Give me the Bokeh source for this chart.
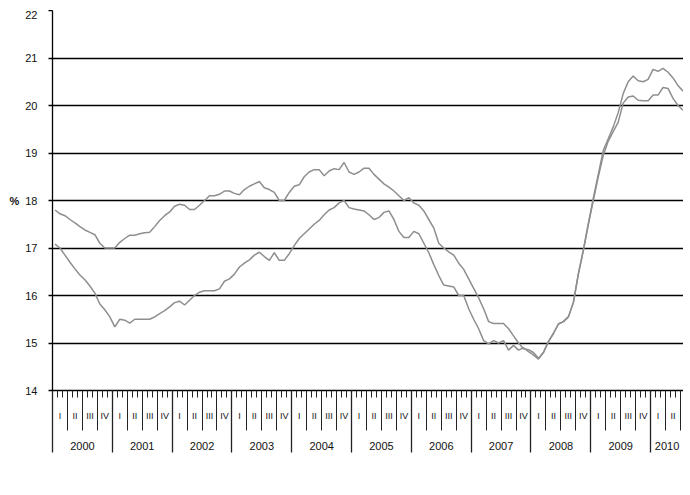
from bokeh.plotting import figure
from bokeh.models import (LinearAxis, FixedTicker, Range1d, Legend, LegendItem,
                          CustomJSTickFormatter)
from bokeh.embed import file_html
from bokeh.resources import INLINE

# ---- data (monthly, Jan 2000 - Jul 2010) ----
year_labels = ["2000", "2001", "2002", "2003", "2004", "2005",
               "2006", "2007", "2008", "2009", "2010"]
quarter_labels = ["I", "II", "III", "IV"]
y_ticks = [14, 15, 16, 17, 18, 19, 20, 21, 22]

eu27 = [17.8, 17.72, 17.68, 17.6, 17.53, 17.45, 17.38, 17.33, 17.28, 17.1,
        17.0, 17.0, 17.0, 17.12, 17.2, 17.27, 17.27, 17.3, 17.32, 17.33,
        17.45, 17.58, 17.68, 17.76, 17.88, 17.92, 17.9, 17.81, 17.81, 17.9,
        18.0, 18.1, 18.1, 18.13, 18.2, 18.2, 18.15, 18.12, 18.23, 18.3,
        18.35, 18.4, 18.27, 18.23, 18.17, 18.0, 18.0, 18.17, 18.3, 18.33,
        18.5, 18.6, 18.65, 18.65, 18.52, 18.62, 18.67, 18.65, 18.8, 18.6,
        18.55, 18.6, 18.68, 18.68, 18.55, 18.45, 18.35, 18.28, 18.2, 18.1,
        18.0, 18.06, 17.95, 17.9, 17.78, 17.6, 17.42, 17.1, 17.0, 16.92,
        16.85, 16.68, 16.55, 16.35, 16.15, 15.95, 15.72, 15.45, 15.41, 15.41,
        15.41, 15.3, 15.15, 15.0, 14.88, 14.86, 14.8, 14.68, 14.8, 15.03,
        15.2, 15.4, 15.45, 15.55, 15.85, 16.45, 16.95, 17.5, 18.05, 18.55,
        19.05, 19.3, 19.55, 19.85, 20.25, 20.5, 20.62, 20.52, 20.5, 20.55,
        20.76, 20.72, 20.78, 20.7, 20.58, 20.42, 20.3]

ea16 = [17.08, 17.0, 16.85, 16.7, 16.56, 16.43, 16.33, 16.2, 16.05, 15.82,
        15.7, 15.55, 15.34, 15.5, 15.48, 15.42, 15.5, 15.5, 15.5, 15.5,
        15.55, 15.62, 15.68, 15.76, 15.85, 15.88, 15.8, 15.9, 16.0, 16.07,
        16.1, 16.1, 16.1, 16.14, 16.3, 16.35, 16.45, 16.6, 16.68, 16.75,
        16.85, 16.91, 16.82, 16.74, 16.9, 16.74, 16.74, 16.88, 17.05, 17.2,
        17.3, 17.4, 17.5, 17.58, 17.7, 17.8, 17.85, 17.95, 18.0, 17.85,
        17.82, 17.8, 17.78, 17.7, 17.6, 17.64, 17.75, 17.78, 17.6, 17.35,
        17.22, 17.22, 17.35, 17.3, 17.1, 16.9, 16.65, 16.42, 16.22, 16.2,
        16.18, 16.0, 16.0, 15.72, 15.5, 15.3, 15.05, 14.98, 15.05, 15.0,
        15.05, 14.85, 14.95, 14.85, 14.9, 14.82, 14.75, 14.66, 14.8, 15.03,
        15.2, 15.4, 15.45, 15.55, 15.85, 16.45, 16.95, 17.5, 18.0, 18.5,
        18.95, 19.25, 19.45, 19.65, 20.05, 20.18, 20.2, 20.11, 20.1, 20.1,
        20.22, 20.22, 20.38, 20.36, 20.15, 20.0, 19.9]

n = len(eu27)
months_x = [i + 0.5 for i in range(n)]
x_end = n - 0.4

FONT = "Liberation Sans"
LINE_COLOR = "#8e8e8e"
TICK_COLOR = "#222222"

p = figure(frame_width=631, frame_height=380, output_backend="svg",
           toolbar_location=None, title=None,
           x_range=Range1d(0, x_end), y_range=Range1d(14, 22),
           x_axis_location=None, min_border_left=0, min_border_right=0,
           min_border_top=0, min_border_bottom=0)
p.margin = (10, 0, 0, 6)
p.outline_line_color = None
p.background_fill_color = "white"
p.border_fill_color = "white"

# y axis
ya = p.yaxis[0]
ya.ticker = FixedTicker(ticks=y_ticks)
ya.axis_line_color = "black"
ya.axis_line_width = 1.3
ya.major_tick_line_color = "black"
ya.major_tick_line_width = 1.3
ya.major_tick_out = 4
ya.major_tick_in = 0
ya.minor_tick_line_color = None
ya.major_label_standoff = 11
ya.major_label_text_font = FONT
ya.major_label_text_font_size = "11px"
ya.major_label_text_color = "#111111"
ya.axis_label = "%"
ya.axis_label_orientation = "horizontal"
ya.axis_label_standoff = 3
ya.axis_label_text_font = FONT
ya.axis_label_text_font_size = "11px"
ya.axis_label_text_font_style = "bold"
ya.axis_label_text_color = "#111111"

p.ygrid.ticker = FixedTicker(ticks=y_ticks[:-1])
p.ygrid.grid_line_color = "black"
p.ygrid.grid_line_width = 1.4
p.xgrid.visible = False

blank = CustomJSTickFormatter(code="return ''")

# month ticks (axis line at frame bottom)
month_bounds = list(range(0, n))
ax_m = LinearAxis(ticker=FixedTicker(ticks=month_bounds, minor_ticks=[]),
                  formatter=blank,
                  major_tick_out=7, major_tick_in=0,
                  minor_tick_out=0, minor_tick_in=0,
                  major_label_standoff=0, major_label_text_font_size="0px",
                  axis_line_color="black", axis_line_width=1.3,
                  major_tick_line_color=TICK_COLOR, major_tick_line_width=1)
p.add_layout(ax_m, "below")

# quarter labels + year boundary ticks (long, reaching up to the frame)
q_bounds = list(range(0, n, 3))
q_centers = [b + 1.5 for b in q_bounds if b + 1.5 < x_end]
y_bounds = list(range(0, n, 12))
ax_q = LinearAxis(ticker=FixedTicker(ticks=q_centers, minor_ticks=y_bounds),
                  formatter=CustomJSTickFormatter(args=dict(labels=quarter_labels),
                                                  code="return labels[Math.floor(tick / 3) % 4]"),
                  major_tick_out=0, major_tick_in=0,
                  minor_tick_in=7, minor_tick_out=55,
                  minor_tick_line_color=TICK_COLOR, minor_tick_line_width=1.3,
                  major_label_standoff=-42,
                  major_label_text_font=FONT, major_label_text_font_size="9px",
                  major_label_text_color="#111111",
                  axis_line_color=None)
p.add_layout(ax_q, "below")

# year labels + quarter boundary ticks
y_centers = [(b + min(b + 12, x_end)) / 2 for b in y_bounds]
ax_y = LinearAxis(ticker=FixedTicker(ticks=y_centers, minor_ticks=q_bounds),
                  formatter=CustomJSTickFormatter(args=dict(labels=year_labels),
                                                  code="return labels[Math.floor(tick / 12)]"),
                  major_tick_out=0, major_tick_in=0,
                  minor_tick_in=31, minor_tick_out=7,
                  minor_tick_line_color=TICK_COLOR, minor_tick_line_width=1,
                  major_label_standoff=11,
                  major_label_text_font=FONT, major_label_text_font_size="11px",
                  major_label_text_color="#111111",
                  axis_line_color=None)
p.add_layout(ax_y, "below")

r_ea = p.line(months_x, ea16, line_color=LINE_COLOR, line_width=1.5)
r_eu = p.line(months_x, eu27, line_color=LINE_COLOR, line_width=1.5)

legend = Legend(items=[LegendItem(label="EA16", renderers=[r_ea]),
                       LegendItem(label="EU27", renderers=[r_eu])],
                orientation="horizontal", location="center",
                border_line_color="black", border_line_width=1,
                background_fill_color="white",
                label_text_font=FONT, label_text_font_size="13px",
                label_text_color="#111111",
                glyph_width=17, glyph_height=12, label_height=12,
                label_standoff=3, spacing=12, padding=2, margin=0)
p.add_layout(legend, "below")

open("out.html", "w").write(file_html(p, INLINE))
